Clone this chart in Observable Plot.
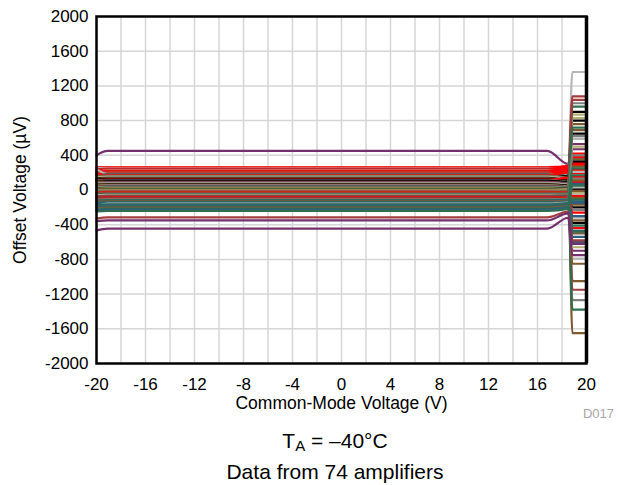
<!DOCTYPE html>
<html><head><meta charset="utf-8">
<script src="https://cdn.jsdelivr.net/npm/d3@7"></script>
<script src="https://cdn.jsdelivr.net/npm/@observablehq/plot@0.6"></script>
<style>
body{margin:0;background:#fff;font-family:'Liberation Sans',Arial,sans-serif;}
#wrap{position:relative;width:621px;height:485px;overflow:hidden;}
#chart{position:absolute;left:0;top:0;}
.cap{position:absolute;left:0;width:621px;padding-left:49px;box-sizing:border-box;text-align:center;font-size:21px;line-height:21px;color:#000;white-space:nowrap;}
</style></head><body>
<div id="wrap"><div id="chart"></div>
<div class="cap" id="cap1" style="top:430px"></div>
<div class="cap" id="cap2" style="top:461px"></div>
</div>
<script>
// ---- texts ----
const xTitle = "Common-Mode Voltage (V)";
const yTitle = "Offset Voltage (\u00B5V)";
const figId = "D017";
const capTemp = ["T", "A", " = \u201340\u00B0C"];
const capData = "Data from 74 amplifiers";

// ---- ticks ----
const xTicks = [-20, -16, -12, -8, -4, 0, 4, 8, 12, 16, 20];
const xGrid = [-20, -18, -16, -14, -12, -10, -8, -6, -4, -2, 0, 2, 4, 6, 8, 10, 12, 14, 16, 18, 20];
const yTicks = [-2000, -1600, -1200, -800, -400, 0, 400, 800, 1200, 1600, 2000];

// ---- sweep voltages where each amplifier's curve was read ----
const knotsV = [-20, -19.1, 16.8, 18.5, 18.85, 20];

// ---- per-amplifier readings (µV) ----
const startVos = [400,262,250,240,236,230,210,215,200,195,190,188,240,170,175,160,150,145,140,135,128,122,110,108,104,96,100,80,78,70,66,58,50,40,40,32,30,22,15,8,0,-8,-12,-18,-30,-34,-40,-48,-55,-62,-70,-76,-85,-90,-98,-104,-112,-120,-128,-135,-146,-152,-190,-170,-178,-190,-198,-212,-222,-232,-246,-330,-360,-465];
const flatVos = [450,263,255,248,240,232,225,218,210,204,197,190,184,178,171,165,158,152,146,140,133,127,120,114,108,101,95,88,82,76,70,63,57,50,44,38,31,25,18,12,5,-2,-8,-15,-22,-29,-36,-43,-50,-57,-64,-71,-78,-86,-93,-100,-108,-116,-124,-132,-140,-148,-156,-165,-174,-183,-193,-204,-215,-226,-240,-315,-350,-445];
const pinchVos = [300,275,240,280,220,265,205,250,180,240,175,220,165,160,200,140,135,130,125,120,115,110,140,95,90,85,80,70,68,60,55,50,45,38,33,28,22,15,10,5,-2,-8,-12,-20,-28,-32,-38,-45,-50,-55,-62,-68,-74,-80,-88,-94,-100,-108,-115,-122,-130,-137,-144,-152,-160,-168,-176,-186,-196,-205,-218,-250,-270,-320];
const finalVos = [530,420,1360,380,1080,310,590,290,-1050,230,1000,190,210,900,150,-1650,-1270,870,-50,800,760,650,90,620,330,-200,690,-700,130,-320,355,-380,830,470,270,70,500,10,-660,110,960,-30,-10,-230,-70,-90,1040,-170,720,30,-350,-1150,-130,-260,-1380,-440,400,250,-300,-500,-110,-470,-790,-410,-150,50,-540,-850,-480,-600,170,-580,-620,-750];
const colorKeys = "PRSRDRSRBRMRSKRBMYSKBKRMKKBPMSBKYPBTYKYBGYBMRBDBGSBDTRGRMGTBGTSGTGTBGTGDPP";

const palette = {R:"#ff0000", K:"#000000", S:"#b6b6b6", B:"#7f5a2e", Y:"#b4ae74", P:"#74306c", G:"#2e6e50", T:"#2f5f80", D:"#a33c3c", M:"#7f7f7f"};

const rows = [];
flatVos.forEach((f, i) => {
  const vals = [startVos[i], f, f, pinchVos[i], finalVos[i], finalVos[i]];
  knotsV.forEach((v, k) => rows.push({id: i, v, vos: vals[k], c: palette[colorKeys[i]]}));
});

const font = "'Liberation Sans', Arial, sans-serif";
const chart = Plot.plot({
  width: 621, height: 420,
  marginLeft: 96, marginRight: 35, marginTop: 16, marginBottom: 57,
  style: {fontFamily: font, background: "white"},
  x: {domain: [-20, 20]},
  y: {domain: [-2000, 2000]},
  color: {type: "identity"},
  marks: [
    Plot.gridX(xGrid, {stroke: "#d6d6d6", strokeOpacity: 1, strokeWidth: 1.5}),
    Plot.gridY(yTicks, {stroke: "#d6d6d6", strokeOpacity: 1, strokeWidth: 1.5}),
    Plot.line(rows, {x: "v", y: "vos", z: "id", stroke: "c", strokeWidth: 2.2, curve: "monotone-x"}),
    Plot.frame({stroke: "black", strokeWidth: 2.5}),
    Plot.ruleX([20], {stroke: "black", strokeWidth: 3.5}),
    Plot.axisX({ticks: xTicks, tickSize: 0, tickPadding: 14, fontSize: 17, label: null, tickFormat: d => String(d)}),
    Plot.axisY({ticks: yTicks, tickSize: 0, tickPadding: 8, fontSize: 17, label: null, tickFormat: d => String(d)}),
    Plot.text([xTitle], {text: d => d, frameAnchor: "bottom", textAnchor: "middle", lineAnchor: "top", dy: 33, fontSize: 17.5, fill: "black"}),
    Plot.text([yTitle], {text: d => d, frameAnchor: "left", textAnchor: "middle", lineAnchor: "middle", rotate: -90, dx: -76, fontSize: 17.5, fill: "black"}),
    Plot.text([figId], {text: d => d, frameAnchor: "bottom-right", textAnchor: "middle", lineAnchor: "middle", dx: 12, dy: 50, fontSize: 13, fill: "#a6a6a6"})
  ]
});
document.getElementById("chart").appendChild(chart);

const c1 = document.getElementById("cap1");
c1.append(capTemp[0]);
const sub = document.createElement("span");
sub.textContent = capTemp[1];
sub.style.cssText = "font-size:15px;position:relative;top:3px;";
c1.append(sub);
c1.append(capTemp[2]);
document.getElementById("cap2").textContent = capData;
</script>
</body></html>
